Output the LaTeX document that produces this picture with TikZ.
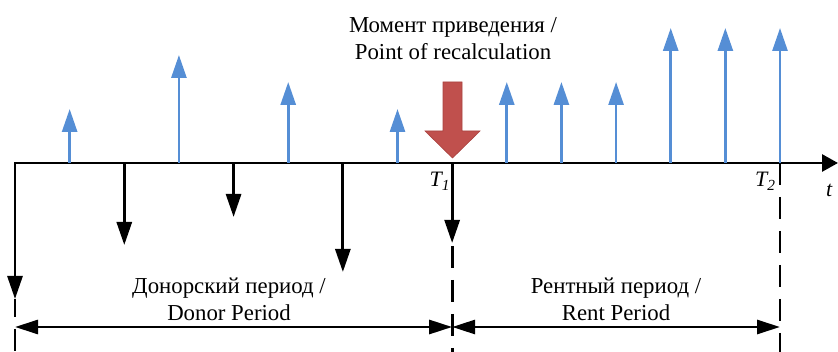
\documentclass[tikz,border=0pt]{standalone}
\usepackage{fontspec}
\setmainfont{Liberation Serif}
\newfontfamily\labelfont{Liberation Serif}
\usetikzlibrary{arrows.meta}
\definecolor{flowblue}{HTML}{558ED5}
\definecolor{pointred}{HTML}{C0504D}
\definecolor{pointredline}{HTML}{A9423F}
\begin{document}
\begin{tikzpicture}[x=1pt,y=-1pt,
  lw/.style={line width=2.8pt},
  headdown/.style={-{Triangle[length=23pt,width=15pt]}},
  inflow/.style={lw,headdown,flowblue},
  outflow/.style={lw,headdown,black},
  boundary/.style={lw,black,dash pattern=on 22pt off 12pt},
  periodspan/.style={lw,black,{Triangle[length=23pt,width=14pt]}-{Triangle[length=23pt,width=14pt]}},
  lbl/.style={inner sep=0pt,anchor=base,font=\labelfont\fontsize{22.8}{27}\selectfont},
  tlbl/.style={inner sep=0pt,anchor=base west,font=\labelfont\fontsize{22}{26}\selectfont\itshape}]
\useasboundingbox (0,0) rectangle (838,352);

% time axis and its grid of payment dates
\coordinate (o) at (15,163);
\coordinate (axisend) at (838,163);
\foreach \i in {1,...,14}{
  \coordinate (p\i) at ({15+\i*54.643},163);
}

% axis together with the first (leftmost) outflow
\coordinate (q0) at (15,299);
\draw[lw,{Triangle[length=23pt,width=15pt]}-{Triangle[length=16pt,width=17pt]}]
  (q0) -- (o) -- (axisend);

% inflows (blue, upwards)
\foreach \i/\h in {1/109,3/55,5/82,7/109,9/82,10/82,11/82,12/28,13/28,14/28}{
  \path (p\i |- 0,\h) coordinate (tip\i);
  \draw[inflow] (p\i) -- (tip\i);
}

% outflows (black, downwards)
\foreach \i/\h in {2/245,4/217,6/272,8/243}{
  \path (p\i |- 0,\h) coordinate (low\i);
  \draw[outflow] (p\i) -- (low\i);
}

% period boundaries
\coordinate (b0) at (15,352);
\coordinate (b8) at (p8 |- 0,352);
\coordinate (b14) at (p14 |- 0,352);
\draw[boundary,dash phase=4pt] (q0) -- (b0);
\draw[boundary,dash phase=31pt] (low8) -- (b8);
\draw[boundary] (p14) -- (b14);

% donor and rent period spans
\coordinate (s0) at (15,327);
\coordinate (s8) at (p8 |- 0,327);
\coordinate (s14) at (p14 |- 0,327);
\draw[periodspan] (s0) -- (s8);
\draw[periodspan] (s8) -- (s14);

% moment of recalculation marker
\coordinate (redtip) at (452.5,158);
\filldraw[fill=pointred,draw=pointredline,line width=0.6pt]
  (443,82) -- (462,82) -- (462,131) -- (480,131) -- (redtip)
  -- (425,131) -- (443,131) -- cycle;

% labels
\node[lbl] (moment) at (453,32.3) {\begin{tabular}[t]{@{}c@{}}Момент приведения /\\Point of recalculation\end{tabular}};
\node[lbl] (donor) at (229,293.3) {\begin{tabular}[t]{@{}c@{}}Донорский период /\\Donor Period\end{tabular}};
\node[lbl] (rent) at (616,293.3) {\begin{tabular}[t]{@{}c@{}}Рентный период /\\Rent Period\end{tabular}};
\node[tlbl] (t1) at (429.5,187) {T\textsubscript{1}};
\node[tlbl] (t2) at (755,187) {T\textsubscript{2}};
\node[tlbl] (tt) at (826,197) {t};
\end{tikzpicture}
\end{document}
